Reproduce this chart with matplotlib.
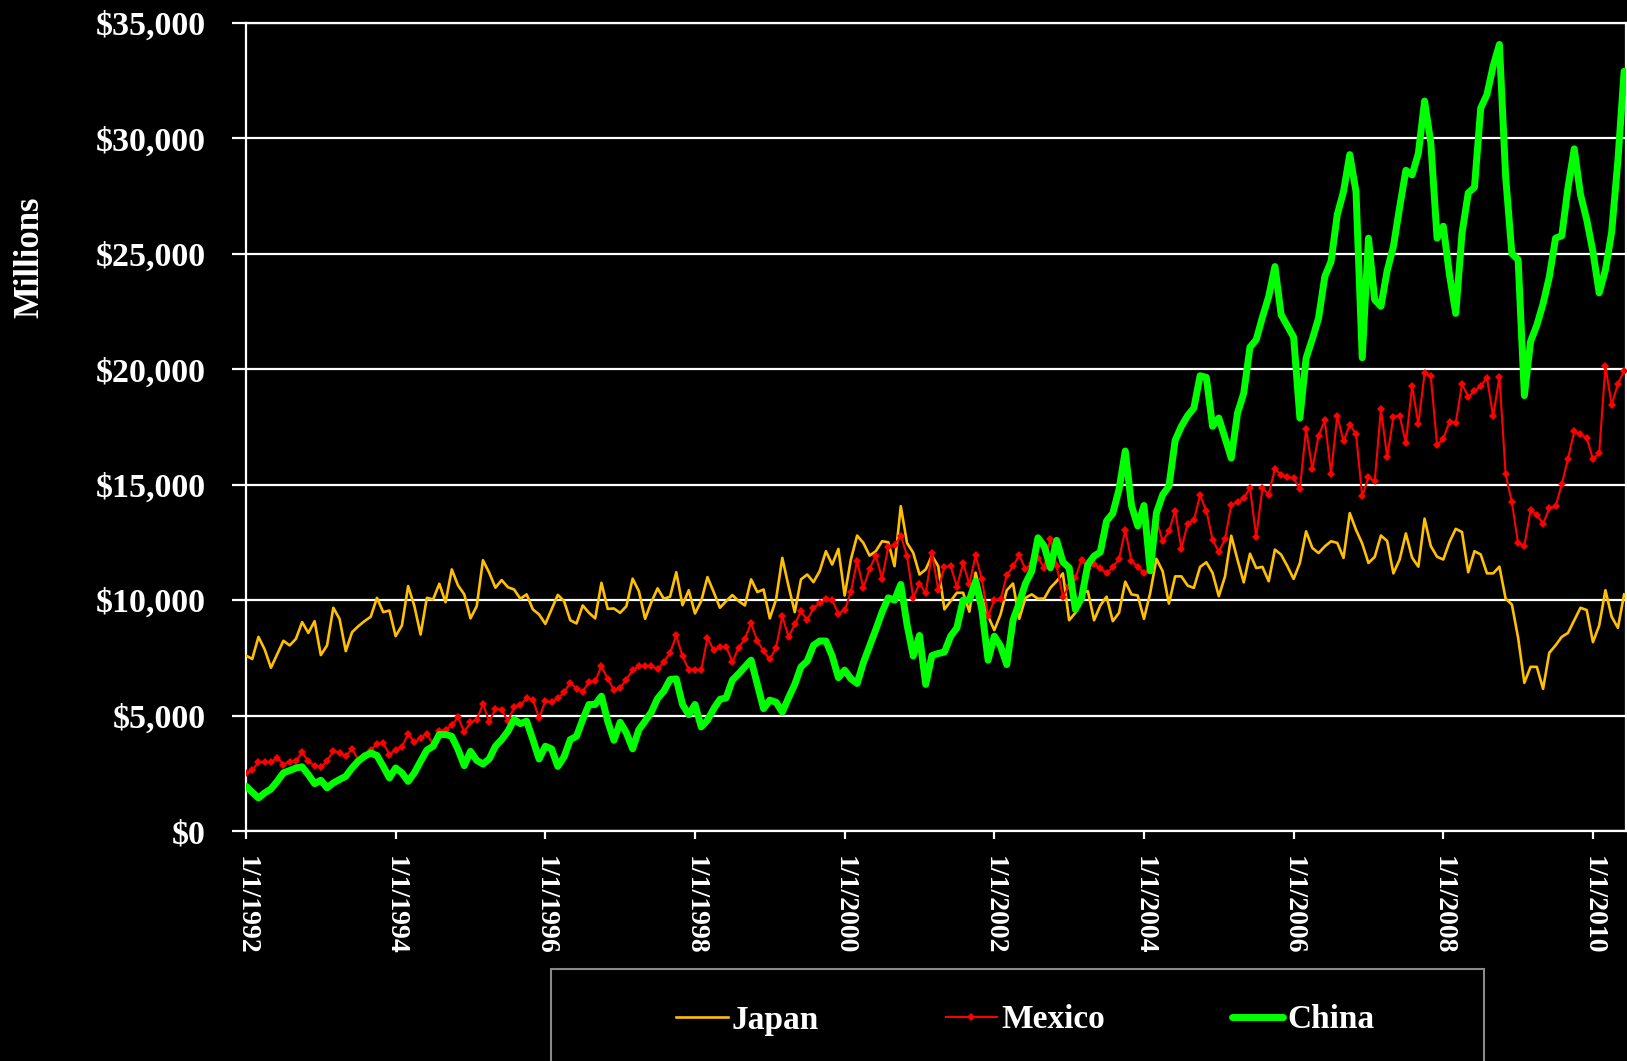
import numpy as np
import pandas as pd
import matplotlib
matplotlib.use("Agg")
import matplotlib.pyplot as plt
from matplotlib.patches import Rectangle
from matplotlib.font_manager import FontProperties

# ---------------- data (monthly, Jan 1992 - Jun 2010, $ millions) ----------------
months = pd.date_range("1992-01-01", periods=222, freq="MS")

japan = [
    7600, 7450, 8410, 7860, 7070, 7650, 8240, 8040, 8320, 9050, 8580, 9090,
    7620, 8040, 9670, 9190, 7790, 8610, 8870, 9090, 9280, 10100, 9480, 9550,
    8440, 8900, 10610, 9740, 8510, 10100, 10030, 10710, 9910, 11330, 10640, 10250,
    9210, 9740, 11730, 11190, 10540, 10870, 10560, 10460, 10060, 10250, 9600, 9380,
    8970, 9600, 10230, 9960, 9130, 8990, 9770, 9450, 9210, 10750, 9620, 9640,
    9450, 9740, 10930, 10390, 9190, 9910, 10510, 10060, 10150, 11210, 9780, 10430,
    9420, 9960, 11000, 10350, 9670, 9960, 10220, 9960, 9770, 10900, 10350, 10460,
    9210, 10030, 11830, 10610, 9480, 10900, 11110, 10780, 11260, 12120, 11540, 12220,
    10200, 11760, 12800, 12480, 11930, 12120, 12550, 12510, 11470, 14070, 12480, 12050,
    11110, 11330, 11930, 11470, 9600, 9960, 10320, 10320, 9500, 11190, 10100, 9310,
    8700, 9380, 10430, 10720, 9190, 10100, 10250, 10060, 10070, 10540, 10820, 11160,
    9130, 9450, 10320, 10390, 9130, 9770, 10150, 9090, 9450, 10800, 10250, 10200,
    9190, 10310, 11790, 11250, 9850, 11030, 11030, 10630, 10530, 11440, 11640, 11180,
    10170, 11030, 12790, 11750, 10770, 12010, 11390, 11440, 10820, 12190, 11970, 11470,
    10920, 11610, 12980, 12260, 12040, 12330, 12550, 12480, 11830, 13770, 13050, 12450,
    11610, 11870, 12800, 12560, 11160, 11760, 12890, 11840, 11450, 13530, 12340, 11880,
    11760, 12520, 13090, 12950, 11210, 12120, 11980, 11160, 11160, 11450, 10060, 9810,
    8370, 6420, 7110, 7110, 6160, 7720, 8040, 8410, 8580, 9130, 9670, 9570,
    8180, 8900, 10430, 9280, 8800, 10250,
]

mexico = [
    2520, 2630, 2980, 2980, 2980, 3170, 2880, 3010, 3020, 3410, 3020, 2830,
    2780, 3020, 3480, 3380, 3240, 3560, 3090, 3240, 3500, 3790, 3820, 3310,
    3530, 3630, 4220, 3840, 4030, 4220, 3740, 4320, 4390, 4580, 4940, 4280,
    4710, 4810, 5510, 4730, 5300, 5260, 4760, 5360, 5450, 5740, 5690, 4900,
    5620, 5590, 5740, 6010, 6420, 6170, 6030, 6460, 6490, 7140, 6600, 6100,
    6200, 6560, 6970, 7140, 7140, 7140, 7020, 7310, 7720, 8470, 7570, 6990,
    6990, 6970, 8370, 7830, 7960, 7980, 7330, 7940, 8330, 8990, 8230, 7790,
    7430, 7940, 9310, 8410, 8950, 9520, 9130, 9670, 9860, 10030, 10000, 9420,
    9570, 10350, 11690, 10530, 11360, 11930, 10920, 12310, 12370, 12800, 11930, 10100,
    10720, 10290, 12050, 10460, 11440, 11470, 10590, 11600, 10680, 11940, 10900, 9310,
    10000, 10030, 11070, 11470, 11950, 11330, 11620, 11840, 11400, 12670, 11470, 10150,
    10610, 10970, 11760, 11360, 11550, 11400, 11160, 11430, 11790, 13040, 11690, 11450,
    11180, 11300, 13490, 12550, 12980, 13880, 12220, 13310, 13460, 14540, 13880, 12620,
    12090, 12650, 14130, 14240, 14420, 14860, 12740, 14860, 14570, 15690, 15430, 15330,
    15290, 14810, 17410, 15680, 17120, 17790, 15480, 17990, 16880, 17600, 17210, 14500,
    15330, 15140, 18280, 16190, 17930, 17990, 16800, 19280, 17620, 19820, 19700, 16720,
    17000, 17730, 17680, 19360, 18810, 19050, 19280, 19630, 17960, 19670, 15450, 14240,
    12460, 12350, 13900, 13700, 13310, 13970, 14060, 15020, 16130, 17310, 17190, 17030,
    16100, 16380, 20130, 18460, 19360, 19940,
]

china = [
    1940, 1680, 1430, 1650, 1820, 2150, 2520, 2620, 2730, 2780, 2440, 2050,
    2200, 1870, 2080, 2230, 2370, 2730, 3020, 3240, 3380, 3270, 2800, 2300,
    2730, 2520, 2150, 2520, 3020, 3500, 3670, 4180, 4180, 4100, 3530, 2830,
    3450, 3060, 2900, 3120, 3670, 3960, 4320, 4830, 4650, 4760, 3960, 3120,
    3670, 3560, 2800, 3210, 3960, 4100, 4830, 5480, 5480, 5840, 4760, 3930,
    4710, 4250, 3560, 4390, 4760, 5150, 5740, 6060, 6560, 6590, 5480, 5040,
    5480, 4510, 4800, 5290, 5700, 5770, 6540, 6810, 7110, 7400, 6350, 5300,
    5670, 5580, 5150, 5770, 6350, 7110, 7360, 8040, 8230, 8230, 7580, 6640,
    6970, 6600, 6390, 7290, 8010, 8730, 9480, 10100, 10000, 10680, 8950, 7580,
    8470, 6350, 7600, 7690, 7750, 8440, 8800, 10000, 10000, 10820, 9600, 7400,
    8440, 8010, 7210, 9130, 9890, 10720, 11260, 12700, 12340, 11400, 12590, 11650,
    11400, 9600, 10100, 11550, 11910, 12080, 13430, 13760, 14800, 16460, 14100, 13210,
    14100, 11270, 13780, 14570, 14930, 16920, 17530, 17990, 18320, 19720, 19650, 17530,
    17890, 17020, 16150, 18100, 18970, 20960, 21280, 22260, 23150, 24450, 22360, 21880,
    21390, 17890, 20480, 21310, 22220, 24020, 24670, 26700, 27700, 29300, 27700, 20500,
    25680, 23010, 22730, 24270, 25320, 27020, 28620, 28420, 29350, 31620, 29810, 25680,
    26200, 24080, 22420, 25890, 27640, 27880, 31310, 31900, 33140, 34070, 28340, 25010,
    24750, 18860, 21210, 21910, 22840, 24000, 25680, 25780, 27880, 29550, 27570, 26480,
    25090, 23310, 24310, 25940, 29040, 32910,
]

series_names = ["Japan", "Mexico", "China"]
y_ticks = [0, 5000, 10000, 15000, 20000, 25000, 30000, 35000]

# ---------------- figure ----------------
W, H = 1627, 1061
fig = plt.figure(figsize=(W / 100, H / 100), dpi=100, facecolor="black")
ax = fig.add_axes([246 / W, 1 - 831 / H, 1380 / W, (831 - 23) / H])
ax.set_facecolor("black")

serif = "Liberation Serif"
tick_font = FontProperties(family=serif, weight="bold", size=24.5)
x_font = FontProperties(family=serif, weight="bold", size=20)
leg_font = FontProperties(family=serif, weight="bold", size=24)

x = np.arange(len(months))
l1, = ax.plot(x, japan, color="#FFC000", lw=1.9, label=series_names[0], zorder=3)
l2, = ax.plot(x, mexico, color="#FF0000", lw=1.5, marker="D", markersize=3.6,
              markeredgewidth=0, label=series_names[1], zorder=4)
l3, = ax.plot(x, china, color="#00FF00", lw=5, solid_joinstyle="round",
              solid_capstyle="round", label=series_names[2], zorder=5)

ax.set_xlim(0, 221.3)
ax.set_ylim(0, 35000)

# y axis
ax.set_yticks(y_ticks)
ax.set_yticklabels([f"${v:,.0f}" for v in y_ticks], fontproperties=tick_font, color="white")
ax.yaxis.grid(True, color="white", lw=1.6, zorder=1)
ax.set_axisbelow(True)

# x axis: label every two years
tick_idx = [i for i, d in enumerate(months) if d.month == 1 and d.year % 2 == 0]
ax.set_xticks(tick_idx)
ax.set_xticklabels([f"{months[i].month}/{months[i].day}/{months[i].year}" for i in tick_idx],
                   fontproperties=x_font, color="white", rotation=-90)

ax.tick_params(axis="y", direction="out", length=10, width=1.6, color="white", pad=19)
ax.tick_params(axis="x", direction="out", length=6, width=1.6, color="white", pad=12)

for side in ["left", "bottom", "right", "top"]:
    ax.spines[side].set_color("white")
    ax.spines[side].set_linewidth(1.6)

fig.text(30 / W, 1 - 257 / H, "Millions", rotation=90, ha="center", va="center",
         color="white", fontproperties=FontProperties(family=serif, weight="bold", size=25))

# legend
fig.patches.append(Rectangle((551 / W, -0.02), (1484 - 551) / W, 0.02 + (H - 969) / H,
                             transform=fig.transFigure, fill=False, edgecolor="#8a8a8a",
                             lw=1.5, figure=fig))
leg = fig.legend(handles=[l1, l2, l3], labels=series_names, ncol=3, loc="center left",
                 bbox_to_anchor=(676 / W, 1 - 1020 / H), frameon=False, borderpad=0,
                 borderaxespad=0, handlelength=1.55, handletextpad=0.12,
                 columnspacing=3.8, prop=leg_font, numpoints=1)
for t in leg.get_texts():
    t.set_color("white")

fig.savefig("out.png", dpi=100, facecolor="black")
